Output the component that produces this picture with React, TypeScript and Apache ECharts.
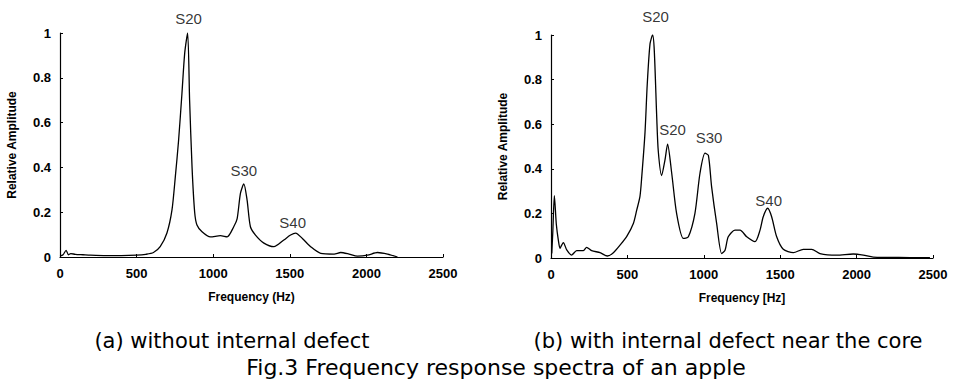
import React, { useEffect, useRef } from "react";
import * as echarts from "echarts";

// (a) without internal defect
const freqA = [0, 20, 40, 55, 70, 100, 150, 200, 300, 400, 500, 560, 610, 654, 698, 731, 753, 774, 796, 814, 833, 846, 862, 879, 894, 927, 982, 1047, 1091, 1134, 1156, 1178, 1200, 1221, 1243, 1276, 1331, 1396, 1461, 1505, 1538, 1582, 1636, 1702, 1789, 1832, 1887, 1941, 2007, 2072, 2138, 2203];
const ampA = [0.005, 0.01, 0.03, 0.01, 0.015, 0.012, 0.01, 0.008, 0.006, 0.006, 0.008, 0.012, 0.02, 0.046, 0.107, 0.21, 0.36, 0.52, 0.73, 0.91, 1.0, 0.7, 0.4, 0.2, 0.143, 0.113, 0.09, 0.095, 0.09, 0.135, 0.17, 0.285, 0.326, 0.255, 0.135, 0.098, 0.062, 0.046, 0.076, 0.098, 0.107, 0.083, 0.046, 0.016, 0.013, 0.02, 0.013, 0.004, 0.008, 0.02, 0.013, 0.0];
const peakIdxA = [20, 32, 40];
const peakNamesA = ["S20", "S30", "S40"];

// (b) with internal defect near the core
const freqB = [5, 12, 22, 35, 48, 59, 70, 81, 103, 135, 168, 212, 233, 266, 321, 369, 408, 452, 495, 539, 561, 582, 594, 615, 630, 648, 665, 676, 692, 702, 724, 746, 763, 790, 822, 866, 899, 942, 975, 1008, 1030, 1051, 1084, 1117, 1139, 1160, 1204, 1237, 1281, 1335, 1368, 1389, 1418, 1444, 1477, 1520, 1586, 1651, 1706, 1760, 1870, 1978, 2044, 2109, 2200, 2350, 2480];
const ampB = [0.02, 0.12, 0.28, 0.15, 0.08, 0.043, 0.058, 0.069, 0.036, 0.013, 0.033, 0.033, 0.048, 0.033, 0.024, 0.009, 0.024, 0.058, 0.096, 0.155, 0.215, 0.275, 0.365, 0.56, 0.78, 0.96, 1.0, 0.93, 0.63, 0.48, 0.37, 0.44, 0.51, 0.38, 0.2, 0.088, 0.095, 0.2, 0.38, 0.47, 0.46, 0.32, 0.155, 0.02, 0.035, 0.095, 0.125, 0.125, 0.095, 0.073, 0.125, 0.185, 0.223, 0.185, 0.095, 0.039, 0.024, 0.039, 0.039, 0.02, 0.013, 0.018, 0.013, 0.004, 0.003, 0.002, 0.002];
const peakIdxB = [26, 32, 39, 52];
const peakNamesB = ["S20", "S20", "S30", "S40"];

const xTicks = { min: 0, max: 2500, interval: 500 };
const yTicks = { min: 0, max: 1, interval: 0.2 };

const captionA = "(a) without internal defect";
const captionB = "(b) with internal defect near the core";
const figCaption = "Fig.3 Frequency response spectra of an apple";

// label offsets (style only)
const labelOffA = [[1, -15], [0, -13], [-3, -11]];
const labelOffB = [[3, -19], [5, -15], [4, -16], [1, -8]];

export default function App() {
  const ref = useRef<HTMLDivElement>(null);
  useEffect(() => {
    document.body.style.margin = "0";
    const chart = echarts.init(ref.current!, null, { renderer: "svg" });
    const axisFont = { color: "#000", fontFamily: "Liberation Sans", fontSize: 13, fontWeight: "bold" as const };
    const mkX = (gi: number, name: string) => ({
      type: "value", gridIndex: gi, ...xTicks,
      axisLine: { show: true, lineStyle: { color: "#000", width: 1.2 } },
      axisTick: { show: true, inside: true, length: 3, lineStyle: { color: "#000" } },
      axisLabel: { ...axisFont, margin: 10, formatter: (v: number) => String(v) },
      splitLine: { show: false },
      name, nameLocation: "middle", nameGap: 34,
      nameTextStyle: { ...axisFont, fontSize: 12 },
    });
    const mkY = (gi: number) => ({
      type: "value", gridIndex: gi, ...yTicks,
      axisLine: { show: true, lineStyle: { color: "#000", width: 1.2 } },
      axisTick: { show: true, inside: true, length: 3, lineStyle: { color: "#000" } },
      axisLabel: { ...axisFont, margin: 9 },
      splitLine: { show: false },
      name: "Relative Amplitude", nameLocation: "middle", nameGap: 42, nameRotate: 90,
      nameTextStyle: { ...axisFont, fontSize: 12 },
    });
    const lineSeries = (gi: number, fx: number[], ay: number[]) => ({
      type: "line", xAxisIndex: gi, yAxisIndex: gi,
      data: fx.map((f, i) => [f, ay[i]]),
      showSymbol: false, symbol: "none", smooth: 0.25,
      lineStyle: { color: "#000", width: 1.3 },
      silent: true,
    });
    const peakSeries = (gi: number, fx: number[], ay: number[], idx: number[], names: string[], offs: number[][]) => ({
      type: "scatter", xAxisIndex: gi, yAxisIndex: gi, symbolSize: 0,
      data: idx.map((k, j) => ({
        value: [fx[k], ay[k]],
        label: { show: true, formatter: names[j], position: "inside", offset: offs[j], color: "#000", fontFamily: "Liberation Sans", fontSize: 15 },
      })),
      silent: true,
    });
    chart.setOption({
      animation: false,
      backgroundColor: "#fff",
      grid: [
        { left: 60, right: 511, top: 33, bottom: 128 },
        { left: 551, right: 21, top: 35, bottom: 127 },
      ],
      xAxis: [mkX(0, "Frequency (Hz)"), mkX(1, "Frequency [Hz]")],
      yAxis: [mkY(0), mkY(1)],
      series: [
        lineSeries(0, freqA, ampA),
        lineSeries(1, freqB, ampB),
        peakSeries(0, freqA, ampA, peakIdxA, peakNamesA, labelOffA),
        peakSeries(1, freqB, ampB, peakIdxB, peakNamesB, labelOffB),
      ],
      graphic: [
        { type: "text", x: 232, y: 341, style: { text: captionA, align: "center", verticalAlign: "middle", fill: "#000", font: "21px 'DejaVu Sans'" } },
        { type: "text", x: 728, y: 341, style: { text: captionB, align: "center", verticalAlign: "middle", fill: "#000", font: "21px 'DejaVu Sans'" } },
        { type: "text", x: 496, y: 367, style: { text: figCaption, align: "center", verticalAlign: "middle", fill: "#000", font: "22px 'DejaVu Sans'" } },
      ],
    });
    return () => chart.dispose();
  }, []);
  return <div ref={ref} style={{ width: 954, height: 385 }} />;
}
